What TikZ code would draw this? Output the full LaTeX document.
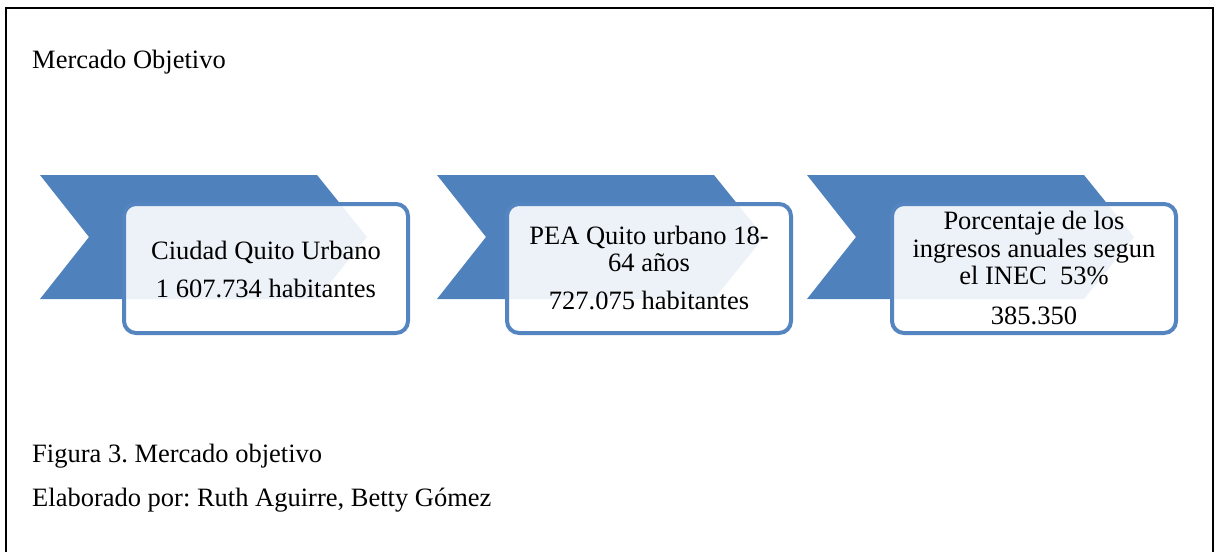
\documentclass[tikz,border=0pt]{standalone}
\usepackage{fontspec}
\setmainfont{Liberation Serif}
\definecolor{chevblue}{HTML}{4F81BD}
\definecolor{boxblue}{HTML}{5585C0}
\begin{document}
\frenchspacing
\begin{tikzpicture}[x=1pt,y=-1pt,
  chev/.style={fill=chevblue},
  infobox/.style={draw=boxblue, line width=4pt, rounded corners=12pt, fill=white, fill opacity=0.9,
    minimum width=284pt, minimum height=129pt, inner sep=0pt},
  txt/.style={anchor=base, inner sep=0pt, font=\fontsize{26.5}{28}\selectfont},
  lefttxt/.style={anchor=base west, inner sep=0pt, font=\fontsize{26.5}{28}\selectfont}]
\useasboundingbox (0,0) rectangle (1217,552);
\fill[white] (0,0) rectangle (1217,552);
% frame
\draw[line width=2.5pt] (6,552) -- (6,8) -- (1213,8) -- (1213,552);
% title
\node[lefttxt] (title) at (32,68) {Mercado Objetivo};
% chevrons
\fill[chev] (40,175) -- (317,175) -- (367,237) -- (317,299) -- (40,299) -- (89,237) -- cycle;
\fill[chev] (437,175) -- (714,175) -- (764,237) -- (714,299) -- (437,299) -- (486,237) -- cycle;
\fill[chev] (807,175) -- (1084,175) -- (1134,237) -- (1084,299) -- (807,299) -- (856,237) -- cycle;
% boxes
\node[infobox] (box1) at (266,268.5) {};
\node[infobox] (box2) at (649,268.5) {};
\node[infobox] (box3) at (1034,268.5) {};
% box texts
\node[txt] (t11) at (266,259) {Ciudad Quito Urbano};
\node[txt] (t12) at (266,297) {1 607.734 habitantes};
\node[txt] (t21) at (649,244) {PEA Quito urbano 18-};
\node[txt] (t22) at (649,271) {64 años};
\node[txt] (t23) at (649,309) {727.075 habitantes};
\node[txt] (t31) at (1034,229) {Porcentaje de los};
\node[txt] (t32) at (1034,257) {ingresos anuales segun};
\node[txt] (t33) at (1034,284) {el INEC\ \ 53\%};
\node[txt] (t34) at (1034,324) {385.350};
% captions
\node[lefttxt] (cap1) at (32,462) {Figura 3. Mercado objetivo};
\node[lefttxt] (cap2) at (32,506) {Elaborado por: Ruth Aguirre, Betty Gómez};
\end{tikzpicture}
\end{document}
